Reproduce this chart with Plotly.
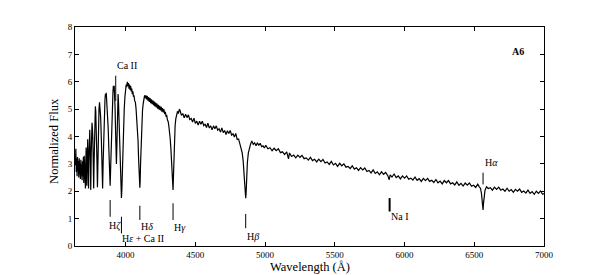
import plotly.graph_objects as go

# ---------------- data ----------------
# Blue noisy end
wl_1 = [3640, 3643, 3646, 3649, 3652, 3655, 3658, 3661, 3664, 3667, 3670, 3673,
        3676, 3679, 3682, 3685, 3688, 3691, 3694, 3697, 3700, 3703, 3706, 3709]
fx_1 = [2.95, 3.55, 2.70, 3.20, 2.55, 3.25, 2.75, 3.10, 2.50, 3.20, 2.65, 3.05,
        2.45, 3.15, 2.60, 3.00, 2.40, 3.10, 2.55, 3.25, 2.30, 3.30, 2.60, 3.10]

# Higher Balmer series lines
wl_2 = [3712, 3714, 3717, 3719, 3722, 3725, 3728, 3731, 3734, 3737, 3740, 3743, 3746,
        3750, 3753, 3756, 3759, 3762, 3765, 3768, 3771, 3774, 3777, 3780, 3783, 3786,
        3789, 3792, 3795, 3798, 3801, 3805, 3809, 3813, 3817, 3821, 3826, 3830, 3835]
fx_2 = [2.10, 3.00, 3.60, 3.20, 2.20, 3.30, 3.90, 3.30, 2.10, 3.20, 4.00, 4.25, 3.50,
        2.05, 3.30, 4.10, 4.50, 4.30, 3.90, 3.00, 2.10, 3.10, 4.20, 4.80, 5.10, 4.90,
        4.50, 3.90, 3.00, 2.15, 3.20, 4.30, 5.00, 5.25, 5.05, 4.70, 3.90, 3.00, 2.10]

# H zeta, Ca II K, H epsilon
wl_3 = [3839, 3844, 3849, 3852, 3855, 3858, 3861, 3864, 3867, 3871, 3875, 3880, 3884,
        3889, 3893, 3897, 3902, 3906, 3909, 3912, 3915, 3918, 3921, 3924, 3927, 3931,
        3934, 3937, 3940, 3943, 3946, 3949, 3952, 3956, 3960, 3964, 3967, 3970]
fx_3 = [3.10, 4.40, 5.10, 5.35, 5.55, 5.45, 5.60, 5.35, 5.20, 4.80, 4.30, 3.50, 2.80,
        2.20, 2.90, 3.90, 4.90, 5.40, 5.60, 5.85, 5.65, 5.85, 5.60, 5.10, 4.40, 3.40,
        3.00, 3.60, 4.70, 5.40, 5.55, 5.25, 4.80, 4.10, 3.30, 2.50, 1.95, 1.75]

# Peak and H delta
wl_4 = [3973, 3977, 3981, 3985, 3990, 3995, 4000, 4004, 4008, 4012, 4016, 4020, 4024, 4028,
        4032, 4036, 4040, 4044, 4048, 4052, 4056, 4060, 4065, 4070, 4075, 4080, 4085, 4089,
        4093, 4097, 4100, 4102, 4104, 4107, 4111, 4116, 4121, 4126, 4131, 4136, 4140]
fx_4 = [2.05, 2.90, 3.70, 4.40, 5.00, 5.45, 5.70, 5.90, 5.80, 6.00, 5.85, 5.95, 5.75, 5.90,
        5.70, 5.85, 5.65, 5.75, 5.55, 5.65, 5.45, 5.50, 5.30, 5.25, 5.00, 4.70, 4.35, 3.85,
        3.20, 2.60, 2.25, 2.13, 2.35, 3.00, 3.80, 4.50, 4.95, 5.20, 5.35, 5.50, 5.40]

# Continuum and H gamma
wl_5 = [4145, 4150, 4155, 4160, 4165, 4170, 4175, 4180, 4185, 4190, 4195, 4200, 4205,
        4210, 4215, 4220, 4225, 4230, 4235, 4240, 4245, 4250, 4255, 4260, 4265, 4270,
        4275, 4280, 4285, 4290, 4295, 4300, 4305, 4310, 4315, 4320, 4325, 4330, 4334,
        4337, 4340, 4343, 4346, 4350, 4355, 4360, 4366, 4372, 4378, 4385]
fx_5 = [5.50, 5.36, 5.48, 5.31, 5.44, 5.26, 5.40, 5.22, 5.36, 5.18, 5.32, 5.14, 5.28,
        5.10, 5.24, 5.06, 5.20, 5.02, 5.16, 4.98, 5.12, 4.95, 5.08, 4.91, 5.04, 4.88,
        4.99, 4.82, 4.90, 4.74, 4.76, 4.60, 4.55, 4.38, 4.18, 3.90, 3.52, 3.00, 2.50,
        2.18, 2.05, 2.55, 3.20, 3.90, 4.40, 4.65, 4.82, 4.92, 4.84, 4.98]

# Continuum toward H beta
wl_6 = [4390, 4400, 4410, 4420, 4430, 4440, 4450, 4460, 4470, 4480, 4490, 4500,
        4510, 4520, 4530, 4540, 4550, 4560, 4570, 4580, 4590, 4600, 4610, 4620,
        4630, 4640, 4650, 4660, 4670, 4680, 4690, 4700, 4710, 4720, 4730, 4740,
        4750, 4760, 4770, 4780, 4790, 4800, 4810, 4820]
fx_6 = [4.96, 4.77, 4.84, 4.68, 4.81, 4.69, 4.79, 4.62, 4.66, 4.53, 4.67, 4.48,
        4.56, 4.42, 4.56, 4.45, 4.56, 4.40, 4.45, 4.33, 4.49, 4.31, 4.39, 4.24,
        4.39, 4.28, 4.39, 4.23, 4.28, 4.16, 4.31, 4.14, 4.22, 4.07, 4.21, 4.11,
        4.22, 4.05, 4.10, 3.98, 4.11, 3.89, 3.91, 3.69]

# H beta and beyond
wl_7 = [4828, 4836, 4843, 4849, 4854, 4858, 4861, 4864, 4868, 4873, 4880, 4888,
        4896, 4905, 4915, 4925, 4935, 4945, 4955, 4965, 4975, 4985, 4995, 5005,
        5020, 5035, 5050, 5065, 5080, 5095, 5110, 5125, 5140, 5155, 5168]
fx_7 = [3.62, 3.40, 3.10, 2.70, 2.25, 1.90, 1.75, 1.95, 2.50, 3.05, 3.40, 3.60,
        3.72, 3.84, 3.71, 3.77, 3.66, 3.77, 3.68, 3.75, 3.63, 3.66, 3.58, 3.68,
        3.55, 3.59, 3.48, 3.57, 3.48, 3.55, 3.41, 3.44, 3.34, 3.44, 3.18]

# Green-yellow continuum with the Na feature
wl_8 = [5175, 5190, 5205, 5220, 5235, 5250, 5265, 5280, 5295, 5310, 5325,
        5340, 5355, 5370, 5385, 5400, 5415, 5430, 5445, 5460, 5475, 5490, 5505,
        5520, 5535, 5550, 5565, 5580, 5595, 5610, 5625, 5640, 5655, 5670, 5685,
        5700, 5715, 5730, 5745, 5760, 5775, 5790, 5805, 5820, 5835, 5850, 5865,
        5880, 5890, 5897, 5910, 5925, 5940, 5955, 5970, 5985]
fx_8 = [3.40, 3.27, 3.32, 3.22, 3.32, 3.24, 3.31, 3.19, 3.22, 3.14, 3.24,
        3.12, 3.17, 3.07, 3.17, 3.08, 3.16, 3.03, 3.07, 2.98, 3.09, 2.96, 3.02,
        2.91, 3.02, 2.93, 3.00, 2.88, 2.91, 2.83, 2.93, 2.81, 2.86, 2.76, 2.86,
        2.78, 2.85, 2.72, 2.76, 2.67, 2.78, 2.65, 2.71, 2.60, 2.71, 2.62, 2.69,
        2.57, 2.42, 2.60, 2.52, 2.63, 2.50, 2.56, 2.45, 2.56]

# Red continuum with H alpha
wl_9 = [6000, 6015, 6030, 6045, 6060, 6075, 6090, 6105, 6120, 6135, 6150, 6165,
        6180, 6195, 6210, 6225, 6240, 6255, 6270, 6285, 6300, 6315, 6330, 6345,
        6360, 6375, 6390, 6405, 6420, 6435, 6450, 6465, 6480, 6495, 6510, 6525,
        6535, 6545, 6552, 6557, 6561, 6563, 6566, 6570, 6577, 6588, 6600, 6615,
        6630, 6645, 6660, 6675, 6690, 6705, 6720, 6735, 6750, 6765, 6780, 6795,
        6810, 6825, 6840, 6855, 6870, 6885, 6900, 6915, 6930, 6945, 6960, 6975,
        6990, 7000]
fx_9 = [2.48, 2.56, 2.44, 2.48, 2.41, 2.52, 2.40, 2.46, 2.36, 2.47, 2.39, 2.47,
        2.36, 2.40, 2.32, 2.43, 2.31, 2.37, 2.27, 2.39, 2.31, 2.39, 2.27, 2.31,
        2.23, 2.34, 2.22, 2.29, 2.19, 2.30, 2.22, 2.30, 2.18, 2.22, 2.14, 2.26,
        2.17, 2.10, 1.90, 1.62, 1.38, 1.32, 1.55, 1.85, 2.04, 2.16, 2.10, 2.13,
        2.04, 2.15, 2.07, 2.15, 2.04, 2.08, 2.00, 2.11, 2.00, 2.06, 1.96, 2.07,
        2.00, 2.08, 1.96, 2.01, 1.93, 2.04, 1.92, 1.99, 1.89, 2.00, 1.92, 2.01,
        1.89, 1.92]

# Line identifications: label, line wavelength, marker bottom / top, label x, label y
line_names = ["Ca II", "H<i>ζ</i>", "H<i>ε</i> + Ca II", "H<i>δ</i>", "H<i>γ</i>",
              "H<i>β</i>", "Na I", "H<i>α</i>"]
line_wl = [3929, 3889, 3970, 4102, 4340, 4861, 5893, 6563]
mark_lo = [5.30, 1.07, 0.46, 0.95, 0.95, 0.65, 1.26, 2.25]
mark_hi = [6.22, 1.68, 1.07, 1.47, 1.56, 1.17, 1.75, 2.68]
label_x = [3923, 3866, 3962, 4099, 4334, 4857, 5886, 6560]
label_y = [6.60, 0.73, 0.28, 0.73, 0.68, 0.34, 1.07, 3.06]
mark_w = [1, 1, 1, 1, 1, 1, 2, 1]

x_ticks = [4000, 4500, 5000, 5500, 6000, 6500, 7000]
y_ticks = [0, 1, 2, 3, 4, 5, 6, 7, 8]

wavelength = wl_1 + wl_2 + wl_3 + wl_4 + wl_5 + wl_6 + wl_7 + wl_8 + wl_9
flux = fx_1 + fx_2 + fx_3 + fx_4 + fx_5 + fx_6 + fx_7 + fx_8 + fx_9

FONT = "Liberation Serif"

fig = go.Figure()
fig.add_trace(go.Scatter(x=wavelength, y=flux, mode="lines",
                         line=dict(color="black", width=1.2), hoverinfo="skip"))

shapes = []
annotations = []
for name, wl, lo, hi, lx, ly, w in zip(line_names, line_wl, mark_lo, mark_hi,
                                       label_x, label_y, mark_w):
    shapes.append(dict(type="line", xref="x", yref="y", x0=wl, x1=wl, y0=lo, y1=hi,
                       line=dict(color="black", width=w)))
    annotations.append(dict(x=lx, y=ly, xref="x", yref="y", text=name, showarrow=False,
                            xanchor="left", yanchor="middle",
                            font=dict(family=FONT, size=10, color="black")))

annotations.append(dict(x=6758, y=7.1, xref="x", yref="y", text="<b>A6</b>",
                        showarrow=False, xanchor="left", yanchor="middle",
                        font=dict(family=FONT, size=10, color="black")))
annotations.append(dict(x=0.5, y=0, xref="paper", yref="paper", text="Wavelength (Å)",
                        showarrow=False, xanchor="center", yanchor="top", yshift=-12,
                        font=dict(family=FONT, size=12.5, color="black")))
annotations.append(dict(x=0, y=0.48, xref="paper", yref="paper", text="Normalized Flux",
                        showarrow=False, xanchor="right", yanchor="middle", xshift=-12,
                        textangle=-90,
                        font=dict(family=FONT, size=12.5, color="black")))

axis_common = dict(showline=True, linecolor="black", linewidth=1, mirror="ticks",
                   ticks="inside", ticklen=4, tickcolor="black", tickwidth=1,
                   showgrid=False, zeroline=False,
                   tickfont=dict(family=FONT, size=9, color="black"))

# The page body has an 8 px default margin, so the figure is sized to fit the window.
fig.update_layout(
    width=597, height=267,
    margin=dict(l=67, r=61, t=19, b=29),
    paper_bgcolor="white", plot_bgcolor="white",
    showlegend=False,
    shapes=shapes, annotations=annotations,
    xaxis=dict(range=[3637, 7000], tickvals=x_ticks, **axis_common),
    yaxis=dict(range=[0, 8], tickvals=y_ticks, **axis_common),
)

fig.write_html("out.html")
